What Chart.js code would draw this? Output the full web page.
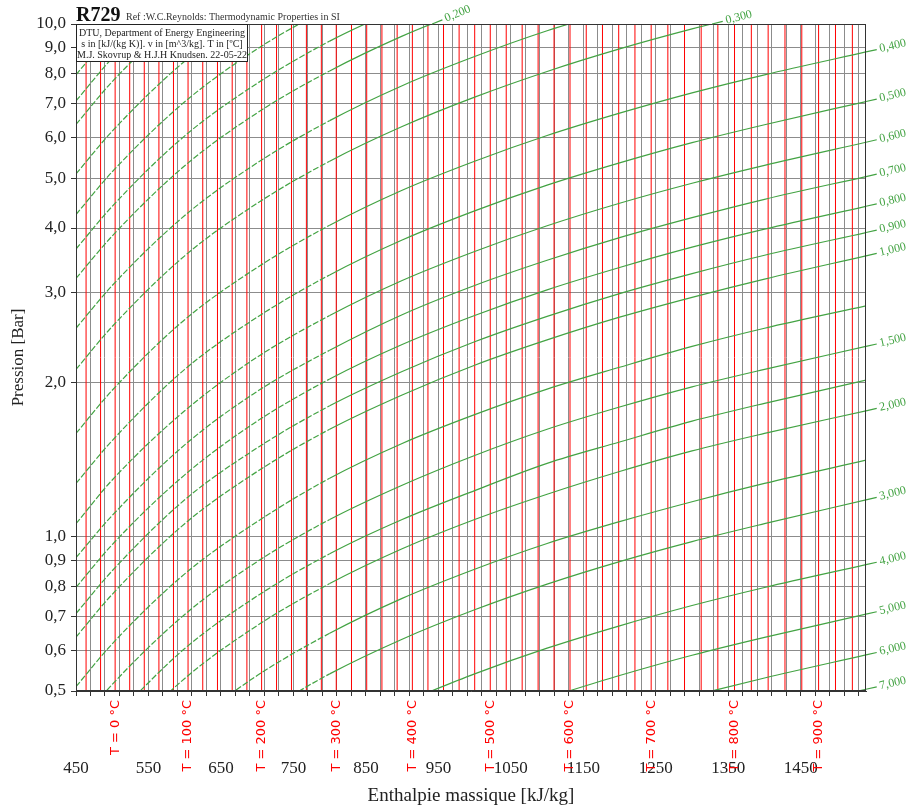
<!DOCTYPE html>
<html>
<head>
<meta charset="utf-8">
<title>R729 log(p)-h</title>
<script src="https://cdn.jsdelivr.net/npm/chart.js@4.4.1/dist/chart.umd.min.js"></script>
<style>
  html, body { margin: 0; padding: 0; background: #fff; }
  #wrap { position: relative; width: 909px; height: 807px; }
</style>
</head>
<body>
<div id="wrap"><canvas id="ph"></canvas></div>
<script>
// ===== R729 pressure / enthalpy diagram =====

// axis ticks
const yTicks = [0.5, 0.6, 0.7, 0.8, 0.9, 1, 2, 3, 4, 5, 6, 7, 8, 9, 10];
const xLabels = [450, 550, 650, 750, 850, 950, 1050, 1150, 1250, 1350, 1450];

// isotherms, every 20 °C, enthalpy [kJ/kg] where each one sits
const isoT = [-40, -20, 0, 20, 40, 60, 80, 100, 120, 140, 160, 180, 200, 220, 240, 260, 280, 300,
  320, 340, 360, 380, 400, 420, 440, 460, 480, 500, 520, 540, 560, 580, 600, 620, 640, 660, 680, 700,
  720, 740, 760, 780, 800, 820, 840, 860, 880, 900, 920, 940];
const isoH = [463.9, 483.9, 504.0, 524.1, 544.2, 564.4, 584.5, 604.6, 624.9, 645.2, 665.5, 685.8, 706.1,
  726.7, 747.3, 767.9, 788.5, 809.1, 830.1, 851.1, 872.1, 893.1, 914.1, 935.6, 957.1, 978.6, 1000.1,
  1021.6, 1043.6, 1065.6, 1087.6, 1109.6, 1131.6, 1154.0, 1176.4, 1198.8, 1221.2, 1243.6, 1266.6,
  1289.6, 1312.6, 1335.6, 1358.6, 1381.8, 1405.0, 1428.2, 1451.4, 1474.6, 1497.9, 1521.2];
const labelT = [0, 100, 200, 300, 400, 500, 600, 700, 800, 900];

// isochores: pressure [bar] read at these enthalpies, null = off the diagram
const hGrid = [450, 500, 600, 700, 800, 900, 1000, 1100, 1200, 1300, 1400, 1540];
const v0_08 = [7.96, 9.65, 13.2, null, null, null, null, null, null, null, null, null];
const v0_09 = [7.08, 8.58, 11.8, null, null, null, null, null, null, null, null, null];
const v0_10 = [6.37, 7.72, 10.6, null, null, null, null, null, null, null, null, null];
const v0_125 = [5.10, 6.18, 8.46, 10.7, null, null, null, null, null, null, null, null];
const v0_15 = [4.25, 5.15, 7.05, 8.94, 10.8, null, null, null, null, null, null, null];
const v0_175 = [3.64, 4.41, 6.05, 7.66, 9.26, 10.8, null, null, null, null, null, null];
const v0_20 = [3.19, 3.86, 5.29, 6.71, 8.10, 9.47, 10.8, null, null, null, null, null];
const v0_25 = [2.55, 3.09, 4.23, 5.36, 6.48, 7.58, 8.64, 9.70, 10.7, null, null, null];
const v0_30 = [2.12, 2.57, 3.53, 4.47, 5.40, 6.31, 7.20, 8.08, 8.94, 9.78, 10.6, null];
const v0_40 = [1.59, 1.93, 2.65, 3.35, 4.05, 4.74, 5.40, 6.06, 6.70, 7.34, 7.96, 8.82];
const v0_50 = [1.27, 1.54, 2.12, 2.68, 3.24, 3.79, 4.32, 4.85, 5.36, 5.87, 6.36, 7.06];
const v0_60 = [1.06, 1.29, 1.76, 2.24, 2.70, 3.16, 3.60, 4.04, 4.47, 4.89, 5.30, 5.88];
const v0_70 = [0.910, 1.10, 1.51, 1.92, 2.31, 2.71, 3.09, 3.46, 3.83, 4.19, 4.55, 5.04];
const v0_80 = [0.796, 0.965, 1.32, 1.68, 2.03, 2.37, 2.70, 3.03, 3.35, 3.67, 3.98, 4.41];
const v0_90 = [0.708, 0.858, 1.18, 1.49, 1.80, 2.10, 2.40, 2.69, 2.98, 3.26, 3.54, 3.92];
const v1_00 = [0.637, 0.772, 1.06, 1.34, 1.62, 1.89, 2.16, 2.42, 2.68, 2.93, 3.18, 3.53];
const v1_25 = [0.510, 0.618, 0.846, 1.07, 1.30, 1.52, 1.73, 1.94, 2.14, 2.35, 2.55, 2.82];
const v1_50 = [0.425, 0.515, 0.705, 0.894, 1.08, 1.26, 1.44, 1.62, 1.79, 1.96, 2.12, 2.35];
const v1_75 = [null, 0.441, 0.605, 0.766, 0.926, 1.08, 1.23, 1.39, 1.53, 1.68, 1.82, 2.02];
const v2_00 = [null, 0.386, 0.529, 0.671, 0.810, 0.947, 1.08, 1.21, 1.34, 1.47, 1.59, 1.76];
const v2_50 = [null, null, 0.423, 0.536, 0.648, 0.758, 0.864, 0.970, 1.07, 1.17, 1.27, 1.41];
const v3_00 = [null, null, null, 0.447, 0.540, 0.631, 0.720, 0.808, 0.894, 0.978, 1.06, 1.18];
const v4_00 = [null, null, null, null, null, 0.474, 0.540, 0.606, 0.670, 0.734, 0.796, 0.882];
const v5_00 = [null, null, null, null, null, null, null, 0.485, 0.536, 0.587, 0.636, 0.706];
const v6_00 = [null, null, null, null, null, null, null, null, null, 0.489, 0.530, 0.588];
const v7_00 = [null, null, null, null, null, null, null, null, null, null, 0.455, 0.504];

const isoV = [0.08, 0.09, 0.1, 0.125, 0.15, 0.175, 0.2, 0.25, 0.3, 0.4, 0.5, 0.6, 0.7, 0.8, 0.9,
  1, 1.25, 1.5, 1.75, 2, 2.5, 3, 4, 5, 6, 7];
const isoP = [v0_08, v0_09, v0_10, v0_125, v0_15, v0_175, v0_20, v0_25, v0_30, v0_40, v0_50, v0_60,
  v0_70, v0_80, v0_90, v1_00, v1_25, v1_50, v1_75, v2_00, v2_50, v3_00, v4_00, v5_00, v6_00, v7_00];
const topLabels = [0.2, 0.3];
const rightLabels = [0.4, 0.5, 0.6, 0.7, 0.8, 0.9, 1, 1.5, 2, 3, 4, 5, 6, 7];

const GREEN = '#43a343';
const RED = '#ff0000';
const SERIF = '"Liberation Serif", "Times New Roman", serif';

Chart.defaults.font.family = SERIF;

const datasets = [];
isoV.forEach((v, i) => {
  datasets.push({
    label: 'v = ' + v,
    data: hGrid.map((h, k) => ({ x: h, y: isoP[i][k] })),
    borderColor: GREEN,
    borderWidth: 1.2,
    pointRadius: 0,
    cubicInterpolationMode: 'monotone',
    spanGaps: false,
    order: 1,
    segment: {
      // steep parts of the isochores are dashed in the original
      borderDash: c => Math.abs(c.p1.y - c.p0.y) > 0.55 * Math.abs(c.p1.x - c.p0.x) ? [6, 2] : []
    }
  });
});
isoT.forEach((t, i) => {
  datasets.push({
    label: 'T = ' + t,
    data: [{ x: isoH[i], y: 0.5 }, { x: isoH[i], y: 10 }],
    borderColor: RED,
    borderWidth: 1,
    pointRadius: 0,
    order: 2
  });
});

function fmtV(v) { return v.toFixed(3).replace('.', ','); }

const overlay = {
  id: 'overlay',
  afterDatasetsDraw(chart) {
    const { ctx, chartArea: a, scales: { x, y } } = chart;
    ctx.save();

    // frame
    ctx.strokeStyle = '#333';
    ctx.lineWidth = 1;
    ctx.strokeRect(Math.round(a.left) + 0.5, Math.round(a.top) + 0.5,
      Math.round(a.right - a.left) - 1, Math.round(a.bottom - a.top) - 1);

    // title
    ctx.fillStyle = '#111';
    ctx.textAlign = 'left';
    ctx.textBaseline = 'alphabetic';
    ctx.font = 'bold 20px ' + SERIF;
    ctx.fillText('R729', 76, 21);
    ctx.font = '10px ' + SERIF;
    ctx.fillStyle = '#333';
    ctx.fillText('Ref :W.C.Reynolds: Thermodynamic Properties in SI', 126, 20);

    // info box
    ctx.fillStyle = '#fff';
    ctx.fillRect(76, 24, 172, 38);
    ctx.strokeStyle = '#222';
    ctx.strokeRect(76.5, 24.5, 171, 37);
    ctx.fillStyle = '#222';
    ctx.textAlign = 'center';
    ctx.textBaseline = 'middle';
    ctx.font = '10px ' + SERIF;
    ctx.fillText('DTU, Department of Energy Engineering', 162, 33);
    ctx.fillText('s in [kJ/(kg K)]. v in [m^3/kg]. T in [ºC]', 162, 44);
    ctx.fillText('M.J. Skovrup & H.J.H Knudsen. 22-05-22', 162, 55);

    // isotherm labels below the axis
    ctx.fillStyle = RED;
    ctx.font = '13px "DejaVu Sans", sans-serif';
    labelT.forEach(t => {
      const px = x.getPixelForValue(isoH[isoT.indexOf(t)]);
      ctx.save();
      ctx.translate(px, 700);
      ctx.rotate(-Math.PI / 2);
      ctx.textAlign = 'right';
      ctx.textBaseline = 'middle';
      ctx.fillText('T = ' + t + ' °C', 0, 0);
      ctx.restore();
    });

    // isochore labels
    ctx.strokeStyle = GREEN;
    ctx.fillStyle = GREEN;
    ctx.lineWidth = 1.2;
    ctx.font = '12px ' + SERIF;
    isoV.forEach((v, i) => {
      const isTop = topLabels.includes(v), isRight = rightLabels.includes(v);
      if (!isTop && !isRight) return;
      const pts = [];
      hGrid.forEach((h, k) => {
        if (isoP[i][k] != null) pts.push({ x: x.getPixelForValue(h), y: y.getPixelForValue(isoP[i][k]) });
      });
      let p, dx, dy;
      if (isRight) {
        const p0 = pts[pts.length - 2], p1 = pts[pts.length - 1];
        p = p1; dx = p1.x - p0.x; dy = p1.y - p0.y;
      } else {
        let k = 0;
        while (k < pts.length - 1 && pts[k + 1].y >= a.top) k++;
        const p0 = pts[k], p1 = pts[k + 1];
        const t = (a.top - p0.y) / (p1.y - p0.y);
        p = { x: p0.x + t * (p1.x - p0.x), y: a.top };
        dx = p1.x - p0.x; dy = p1.y - p0.y;
      }
      const len = Math.hypot(dx, dy);
      dx /= len; dy /= len;
      const e = { x: p.x + dx * 11, y: p.y + dy * 11 };
      ctx.beginPath();
      ctx.moveTo(p.x, p.y);
      ctx.lineTo(e.x, e.y);
      ctx.stroke();
      ctx.save();
      ctx.translate(e.x + dx * 3, e.y + dy * 3);
      ctx.rotate(Math.atan2(dy, dx));
      ctx.textAlign = 'left';
      ctx.textBaseline = 'middle';
      ctx.fillText(fmtV(v), 0, 0);
      ctx.restore();
    });

    ctx.restore();
  }
};

new Chart(document.getElementById('ph'), {
  type: 'line',
  data: { datasets },
  options: {
    responsive: true,
    maintainAspectRatio: false,
    animation: false,
    events: [],
    layout: { padding: { top: 24, right: 43, left: 0, bottom: 0 } },
    plugins: {
      legend: { display: false },
      tooltip: { enabled: false }
    },
    scales: {
      x: {
        type: 'linear',
        min: 450,
        max: 1540,
        afterFit: s => { s.height = 116; s.paddingLeft = 0; s.paddingRight = 0; },
        afterBuildTicks: s => {
          const t = [];
          for (let h = 450; h <= 1540; h += 20) t.push({ value: h });
          s.ticks = t;
        },
        ticks: {
          autoSkip: false,
          maxRotation: 0,
          padding: 62,
          color: '#222',
          font: { size: 17 },
          callback: v => xLabels.includes(v) ? String(v) : ''
        },
        grid: { color: '#8c8c8c', tickLength: 5, tickColor: '#333' },
        border: { color: '#333' },
        title: {
          display: true,
          text: 'Enthalpie massique [kJ/kg]',
          color: '#222',
          font: { size: 19 },
          padding: { top: 0, bottom: 0 }
        }
      },
      y: {
        type: 'logarithmic',
        min: 0.5,
        max: 10,
        afterFit: s => { s.width = 76; s.paddingTop = 0; s.paddingBottom = 0; },
        afterBuildTicks: s => { s.ticks = yTicks.map(v => ({ value: v })); },
        ticks: {
          autoSkip: false,
          padding: 5,
          color: '#222',
          font: { size: 17 },
          callback: v => v.toFixed(1).replace('.', ',')
        },
        grid: { color: '#8c8c8c', tickLength: 5, tickColor: '#333' },
        border: { color: '#333' },
        title: {
          display: true,
          text: 'Pression [Bar]',
          color: '#222',
          font: { size: 17 },
          padding: { top: 8, bottom: 0 }
        }
      }
    }
  },
  plugins: [overlay]
});
</script>
</body>
</html>
